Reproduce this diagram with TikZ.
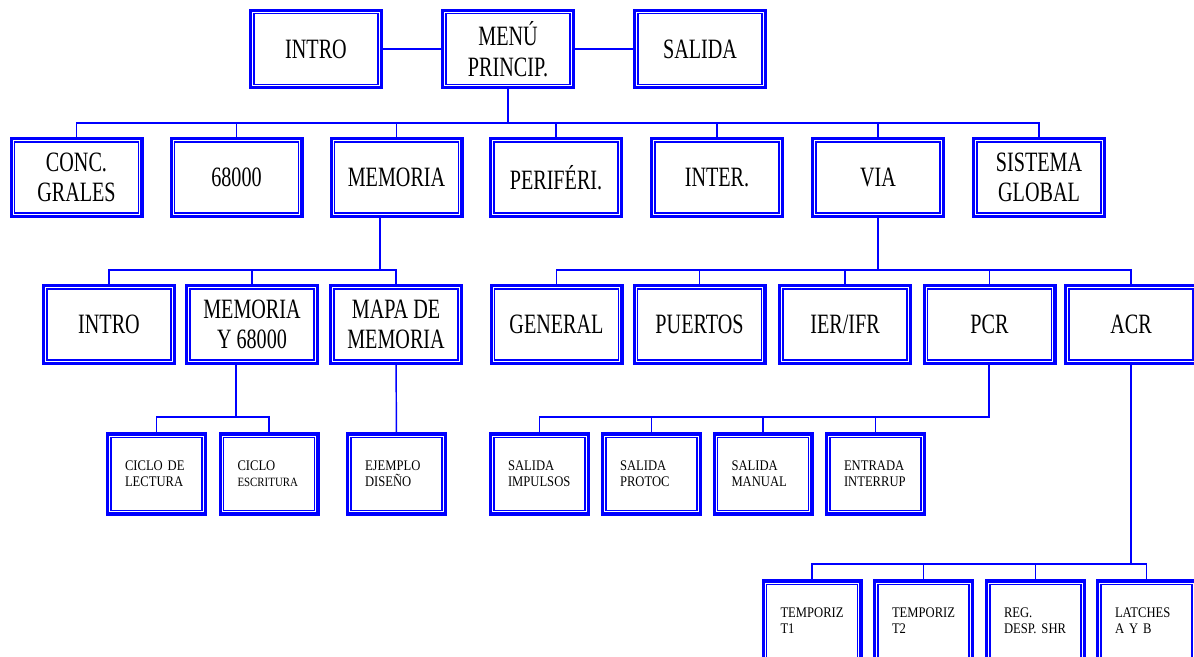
\documentclass[tikz,border=0pt]{standalone}
\usepackage{fontspec}
\setmainfont{Liberation Serif}
\newfontfamily\bigfont[FakeStretch=0.72]{Liberation Serif}
\newfontfamily\smallfont[FakeStretch=0.86]{Liberation Serif}
\tikzset{
    BX/.style ={rectangle, draw=blue, line width=1.1pt, outer sep=3.75pt,
        preaction={draw=blue, line width=7.5pt}, preaction={fill=white},
        preaction={draw=white, line width=2.6pt}},
    BG/.style ={BX, minimum width=93pt, minimum height=53pt, inner sep=0pt, align=center,
        font=\bigfont\fontsize{21}{23}\selectfont},
    SM/.style ={BX, minimum width=68.25pt, minimum height=55pt, inner xsep=10.5pt, inner ysep=0pt,
        text width=47.25pt, align=left, font=\smallfont\fontsize{11}{12}\selectfont},
    LN/.style ={draw=blue, line width=1.1pt}}

\begin{document}
\begin{tikzpicture}[x=0.75pt,y=-0.75pt]
        \useasboundingbox (0,0) rectangle (1194,656);
        \node[BG] (1) at(316,49){INTRO};
        \node[BG] (2) at(508,49){MENÚ\\PRINCIP.};
        \node[BG] (3) at(700,49){SALIDA};
        \node[BG] (4) at(76.5,177.5){CONC.\\GRALES};
        \node[BG] (5) at(236.5,177.5){68000};
        \node[BG] (6) at(396.5,177.5){MEMORIA};
        \node[BG] (7) at(556,177.5){PERIFÉRI.};
        \node[BG] (8) at(717,177.5){INTER.};
        \node[BG] (9) at(878,177.5){VIA};
        \node[BG] (10) at(1039,177.5){SISTEMA\\GLOBAL};
        \node[BG] (11) at(109,324.5){INTRO};
        \node[BG] (12) at(252,324.5){MEMORIA\\Y 68000};
        \node[BG] (13) at(396,324.5){MAPA DE\\MEMORIA};
        \node[BG] (14) at(556.5,324.5){GENERAL};
        \node[BG] (15) at(699.5,324.5){PUERTOS};
        \node[BG] (16) at(845,324.5){IER/IFR};
        \node[BG] (17) at(989.5,324.5){PCR};
        \node[BG] (18) at(1131,324.5){ACR};
        \node[SM] (19) at(156.5,474){CICLO DE\\LECTURA};
        \node[SM] (20) at(269,474){CICLO\\{\fontsize{9.5}{12}\selectfont ESCRITURA}};
        \node[SM] (21) at(396.5,474){EJEMPLO\\DISEÑO};
        \node[SM] (22) at(539.5,474){SALIDA\\IMPULSOS};
        \node[SM] (23) at(651.5,474){SALIDA\\PROTOC};
        \node[SM] (24) at(763,474){SALIDA\\MANUAL};
        \node[SM] (25) at(875.5,474){ENTRADA\\INTERRUP};
        \node[SM] (26) at(812,621){TEMPORIZ\\T1};
        \node[SM] (27) at(923.5,621){TEMPORIZ\\T2};
        \node[SM] (28) at(1035.5,621){REG.\\DESP. SHR};
        \node[SM] (29) at(1146.5,621){LATCHES\\A Y B};
        \coordinate (b1) at(508,123);
        \coordinate (b2) at(380,270);
        \coordinate (b3) at(878,270);
        \coordinate (b4) at(236,417);
        \coordinate (b5) at(989,417);
        \coordinate (b6) at(1131,564);
        \draw[LN] (1) --(2);
        \draw[LN] (2) --(3);
        \foreach \n in {4,...,10}
            \draw[LN] (2.south) --(b1) -|(\n.north);
        \foreach \n in {11,12,13}
            \draw[LN] (b2 |- 6.south) --(b2) -|(\n.north);
        \foreach \n in {14,...,18}
            \draw[LN] (9.south) --(b3) -|(\n.north);
        \foreach \n in {19,20}
            \draw[LN] (b4 |- 12.south) --(b4) -|(\n.north);
        \draw[LN] (13) --(21);
        \foreach \n in {22,...,25}
            \draw[LN] (b5 |- 17.south) --(b5) -|(\n.north);
        \foreach \n in {26,...,29}
            \draw[LN] (b6 |- 18.south) --(b6) -|(\n.north);
    \end{tikzpicture}
\end{document}
